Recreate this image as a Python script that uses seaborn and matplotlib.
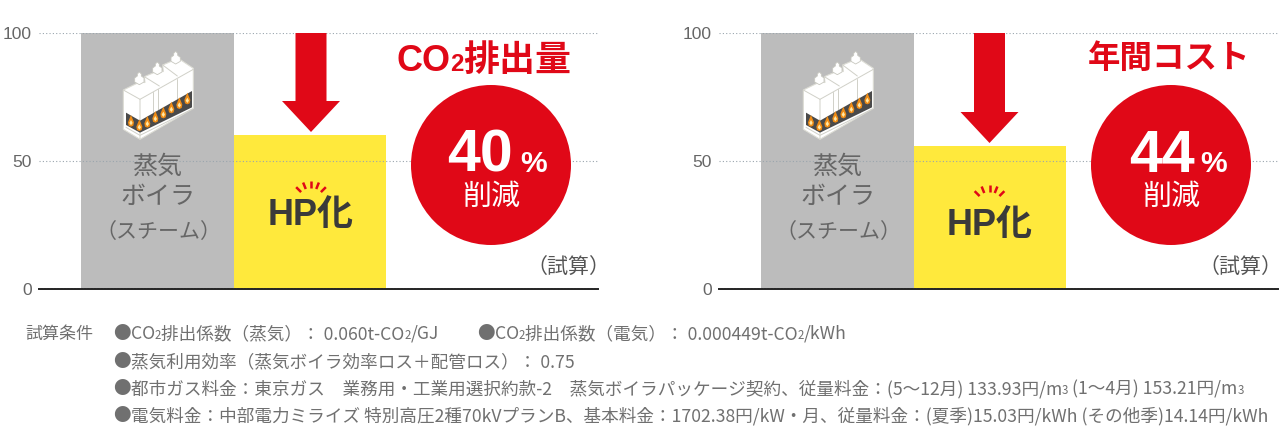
import numpy as np
import pandas as pd
import matplotlib
matplotlib.use("Agg")
import matplotlib.pyplot as plt
import seaborn as sns
from matplotlib.patches import Circle, Polygon

W, H = 1287, 445

sources = ["蒸気ボイラ", "HP化"]
co2_values = [100, 60]
cost_values = [100, 56]
y_ticks = [0, 50, 100]
bar_colors = ["#bcbcbc", "#ffe93c"]

FS = 17.6
FS2 = 11.5
notes = [
    (113, 333, [("●", FS), ("CO", FS), ("2", FS2), ("排出係数（蒸気）： 0.060t-CO", FS), ("2", FS2), ("/GJ", FS)]),
    (477, 333, [("●", FS), ("CO", FS), ("2", FS2), ("排出係数（電気）： 0.000449t-CO", FS), ("2", FS2), ("/kWh", FS)]),
    (113, 361, [("●", FS), ("蒸気利用効率（蒸気ボイラ効率ロス＋配管ロス）： 0.75", FS)]),
    (113, 388, [("●", FS), ("都市ガス料金：東京ガス　業務用・工業用選択約款-2　蒸気ボイラパッケージ契約、従量料金：(5～12月) 133.93円/m", FS),
                ("3", FS2), (" (1～4月) 153.21円/m", FS), ("3", FS2)]),
    (113, 415, [("●", FS), ("電気料金：中部電力ミライズ 特別高圧2種70kVプランB、基本料金：1702.38円/kW・月、従量料金：(夏季)15.03円/kWh (その他季)14.14円/kWh", FS)]),
]

sns.set_theme(style="white")
plt.rcParams["font.family"] = ["Noto Sans CJK JP", "DejaVu Sans"]

RED = "#e00817"
GRAY = "#666666"


def px(size):
    return size * 0.72


def draw_chart(fig, left, values):
    # bars are 152.5 px wide, the first one starts 42 px into the axes
    ax = fig.add_axes([left / W, 1 - 289 / H, 559 / W, 256 / H])
    df = pd.DataFrame({"source": sources, "value": values})
    sns.barplot(data=df, x="source", y="value", hue="source", palette=bar_colors,
                width=1, saturation=1, linewidth=0, legend=False, ax=ax)
    ax.set_xlim(-0.5 - 42 / 152.5, -0.5 + (559 - 42) / 152.5)
    ax.set_ylim(0, 100)
    ax.set_xlabel("")
    ax.set_ylabel("")
    ax.set_xticks([])
    ax.set_yticks(y_ticks)
    ax.tick_params(axis="y", length=0, pad=5)
    for label in ax.get_yticklabels():
        label.set_fontfamily("Liberation Sans")
        label.set_fontsize(px(17.5))
        label.set_color("#666666")
    ax.set_axisbelow(False)
    ax.yaxis.grid(True, linestyle=(0, (1, 2)), color="#9aa5ad", linewidth=0.8)
    for side in ["top", "left", "right"]:
        ax.spines[side].set_visible(False)
    ax.spines["bottom"].set_color("#222222")
    ax.spines["bottom"].set_linewidth(1.4)
    ax.patch.set_alpha(0)
    return ax


def draw_boiler(over, off):
    # icon outline in px of a 3x crop at (680, 20), scaled back down here
    def pts(seq):
        return [(off + a / 3, 20 + b / 3) for a, b in seq]

    body = [(370, 210), (425, 183), (435, 188), (433, 170), (480, 150), (490, 155), (488, 135), (535, 115),
            (580, 145), (580, 265), (420, 358), (370, 328)]
    over.add_patch(Polygon(pts(body), fc="white", ec="#dcdcd4", lw=0.8, zorder=5))
    for cx, cy in [(418, 180), (472, 150), (527, 118)]:
        chimney = [(cx - 14, cy - 6), (cx - 6, cy - 12), (cx - 6, cy - 18), (cx, cy - 24), (cx + 6, cy - 18),
                   (cx + 6, cy - 12), (cx + 14, cy - 6), (cx + 14, cy + 6), (cx, cy + 14), (cx - 14, cy + 6)]
        over.add_patch(Polygon(pts(chimney), fc="white", ec="#c8c8c0", lw=0.6, zorder=6))
    edges = [[(370, 210), (420, 238), (420, 358)], [(420, 238), (580, 148)],
             [(433, 170), (478, 198)], [(488, 135), (532, 168)],
             [(474, 208), (474, 272)], [(530, 176), (530, 242)], [(458, 216), (458, 280)],
             [(378, 322), (420, 346), (576, 268)]]
    for line in edges:
        xy = np.array(pts(line))
        over.plot(xy[:, 0], xy[:, 1], color="#d0d0c8", lw=0.7, zorder=6)
    dark = [(378, 278), (420, 302), (576, 213), (576, 262), (420, 338), (378, 315)]
    over.add_patch(Polygon(pts(dark), fc="#4a4a4a", ec="none", zorder=7))
    flames = [(393, 305), (418, 318), (442, 308), (466, 293), (490, 280), (514, 265), (538, 252), (562, 238)]
    for fx, fy in flames:
        outer = [(fx, fy - 20), (fx + 5, fy - 8), (fx + 9, fy + 2), (fx + 7, fy + 12), (fx, fy + 15),
                 (fx - 7, fy + 12), (fx - 9, fy + 2), (fx - 5, fy - 8)]
        inner = [(fx, fy - 5), (fx + 5, fy + 4), (fx, fy + 11), (fx - 5, fy + 4)]
        over.add_patch(Polygon(pts(outer), fc="#f08c14", ec="none", zorder=8))
        over.add_patch(Polygon(pts(inner), fc="#ffe9a8", ec="none", zorder=9))


def draw_arrow(over, cx, tip):
    shaft = 15.5
    head = 29
    neck = tip - 31
    shape = [(cx - shaft, 33), (cx + shaft, 33), (cx + shaft, neck), (cx + head, neck),
             (cx, tip), (cx - head, neck), (cx - shaft, neck)]
    over.add_patch(Polygon(shape, fc=RED, ec="none", zorder=4))


def draw_sparks(over, cx, cy):
    for ang in [-135, -112, -90, -68, -45]:
        a = np.deg2rad(ang)
        xs = [cx + 14 * np.cos(a), cx + 21 * np.cos(a)]
        ys = [cy + 14 * np.sin(a), cy + 21 * np.sin(a)]
        over.plot(xs, ys, color=RED, lw=1.8, zorder=6, solid_capstyle="butt")


def draw_runs(over, renderer, x, y, runs, color="#707070", **kw):
    # text pieces of different size on one baseline (CO2, m3)
    for text, size in runs:
        t = over.text(x, y, text, fontsize=px(size), color=color, va="baseline", ha="left", zorder=10, **kw)
        x = over.transData.inverted().transform(t.get_window_extent(renderer))[1, 0]


fig = plt.figure(figsize=(W / 100, H / 100), dpi=100, facecolor="white")
draw_chart(fig, 39, co2_values)
draw_chart(fig, 719, cost_values)

over = fig.add_axes([0, 0, 1, 1])
over.set_xlim(0, W)
over.set_ylim(H, 0)
over.axis("off")
renderer = fig.canvas.get_renderer()

HP_FONT = ["Liberation Sans", "Noto Sans CJK JP"]
for off, tip, spark_y, hp_y, hp_x in [(0, 132, 202, 216, 311), (680, 143, 206, 225, 989.5)]:
    draw_arrow(over, hp_x, tip)
    draw_boiler(over, off)
    for text, yy, size in [("蒸気", 167, 25), ("ボイラ", 197, 25), ("（スチーム）", 232, 21)]:
        over.text(158 + off, yy, text, fontsize=px(size), color=GRAY, ha="center", va="center", zorder=10)
    draw_sparks(over, hp_x, spark_y)
    over.text(hp_x, hp_y, "HP化", fontsize=px(36), color="#3a3a3a", fontweight="bold", family=HP_FONT,
              ha="center", va="center", zorder=10)
    over.add_patch(Circle((491 + off, 165), 80, fc=RED, ec="none", zorder=5))
    over.text(491 + off, 197, "削減", fontsize=px(29), color="white", ha="center", va="center", zorder=10)

over.text(610, 268, "（試算）", fontsize=px(21), color="#555555", ha="right", va="center", zorder=10)
over.text(1282, 268, "（試算）", fontsize=px(21), color="#555555", ha="right", va="center", zorder=10)

for label, num_x, pct_x in [("40", 480, 534), ("44", 1162, 1214)]:
    over.text(num_x, 172, label, fontsize=px(59), color="white", fontweight="bold", ha="center", va="baseline",
              family="Liberation Sans", zorder=10)
    over.text(pct_x, 172, "%", fontsize=px(30), color="white", ha="center", va="baseline",
              family="Liberation Sans", fontweight="bold", zorder=10)

draw_runs(over, renderer, 396, 71, [("CO", 36), ("2", 24), ("排出量", 36)], color=RED, fontweight="bold",
          family=HP_FONT)
over.text(1169, 58, "年間コスト", fontsize=px(32.5), color=RED, fontweight="bold", ha="center", va="center", zorder=10)

over.text(25, 339, "試算条件", fontsize=px(17), color="#707070", va="baseline", zorder=10)
for x, y, runs in notes:
    draw_runs(over, renderer, x, y + 6, runs)

fig.savefig("out.png", dpi=100)
